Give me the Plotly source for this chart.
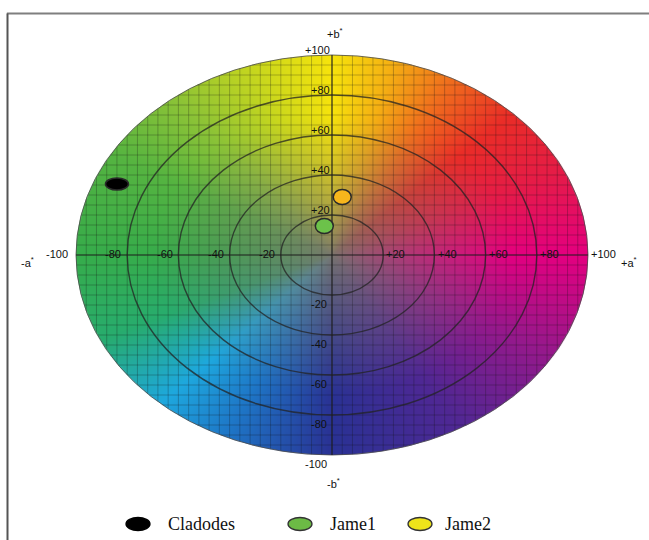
import numpy as np
import zlib, struct, base64
import plotly.graph_objects as go

# ---------------- data ----------------
samples = ["Cladodes", "Jame1", "Jame2"]
a_star = [-84, -3, 4]
b_star = [35.5, 14.5, 29]
point_fill = ["#000000", "#6cc24a", "#f7b61c"]
legend_fill = ["#000000", "#6cbb45", "#eee41a"]
ring_levels = [20, 40, 60, 80]
a_tick_vals = [-80, -60, -40, -20, 20, 40, 60, 80]
a_tick_text = ["-80", "-60", "-40", "-20", "+20", "+40", "+60", "+80"]
b_tick_vals = [100, 80, 60, 40, 20, -20, -40, -60, -80, -100]
b_tick_text = ["+100", "+80", "+60", "+40", "+20", "-20", "-40", "-60", "-80", "-100"]

# hue stops around the a*b* wheel (angle from +a*, counter-clockwise)
hue_angles = [0, 25, 45, 62, 76, 90, 108, 128, 150, 180, 205, 228, 245, 270, 300, 330, 360]
hue_rgb = [(228, 0, 128), (230, 28, 72), (234, 45, 40), (240, 110, 30), (245, 175, 20), (247, 228, 12),
           (200, 215, 30), (140, 195, 55), (85, 180, 65), (55, 172, 75), (40, 172, 110),
           (30, 168, 222), (30, 120, 200), (42, 50, 148), (80, 40, 148), (150, 25, 140),
           (228, 0, 128)]
center_rgb = (122, 118, 110)

W, H = 649, 540
L, R, T, B = 12, 645, 20, 490
X_RANGE = [-125, 100 + (R - 588) / 2.56]
Y_RANGE = [-117.5, 117.5]


def px2paper(px, py):
    return (px - L) / (R - L), (B - py) / (B - T)


# ---------------- background colour wheel image ----------------
N = 500
coords = np.linspace(-100, 100, N, endpoint=False) + 100.0 / N
A, Bm = np.meshgrid(coords, coords[::-1])
rad = np.sqrt(A ** 2 + Bm ** 2) / 100.0
ang = (np.degrees(np.arctan2(Bm, A)) + 360) % 360
hue = np.stack([np.interp(ang, hue_angles, [c[i] for c in hue_rgb]) for i in range(3)], axis=-1)
s = np.clip(rad / 0.7, 0, 1) ** 0.75
rgb = center_rgb * (1 - s[..., None]) + hue * s[..., None]
alpha = np.clip((1.0 - rad) * N / 2 + 0.5, 0, 1) * 255
img = np.concatenate([rgb, alpha[..., None]], axis=-1).astype(np.uint8)


def png_data_uri(rgba):
    h, w, _ = rgba.shape
    raw = b"".join(b"\x00" + rgba[i].tobytes() for i in range(h))

    def chunk(tag, data):
        c = struct.pack(">I", len(data)) + tag + data
        return c + struct.pack(">I", zlib.crc32(tag + data) & 0xffffffff)

    png = (b"\x89PNG\r\n\x1a\n"
           + chunk(b"IHDR", struct.pack(">IIBBBBB", w, h, 8, 6, 0, 0, 0))
           + chunk(b"IDAT", zlib.compress(raw, 9))
           + chunk(b"IEND", b""))
    return "data:image/png;base64," + base64.b64encode(png).decode()


fig = go.Figure()

# ---------------- fine grid clipped to the ellipse ----------------
gx, gy = [], []
for a in np.arange(-96, 100, 4):
    h = 100 * np.sqrt(1 - (a / 100) ** 2)
    gx += [a, a, None]
    gy += [-h, h, None]
for b in np.arange(-95, 100, 5):
    w = 100 * np.sqrt(1 - (b / 100) ** 2)
    gx += [-w, w, None]
    gy += [b, b, None]
fig.add_trace(go.Scatter(x=gx, y=gy, mode="lines", line=dict(color="rgba(20,20,20,0.26)", width=1),
                         hoverinfo="skip", showlegend=False))

# data trace (for hover) - the visible marks are ellipse shapes anchored at the data values
fig.add_trace(go.Scatter(x=a_star, y=b_star, mode="markers", text=samples,
                         marker=dict(size=16, opacity=0), showlegend=False,
                         hovertemplate="%{text}<br>a*=%{x}<br>b*=%{y}<extra></extra>"))

shapes = []
# rings
for r in ring_levels:
    shapes.append(dict(type="circle", xref="x", yref="y", x0=-r, x1=r, y0=-r, y1=r,
                       line=dict(color="rgba(35,35,35,0.75)", width=1.4)))
# outer edge
shapes.append(dict(type="circle", xref="x", yref="y", x0=-100, x1=100, y0=-100, y1=100,
                   line=dict(color="rgba(70,70,70,0.8)", width=1)))
# axes
shapes.append(dict(type="line", xref="x", yref="y", x0=-100, x1=100, y0=0, y1=0,
                   line=dict(color="rgba(30,30,30,0.85)", width=1.2)))
shapes.append(dict(type="line", xref="x", yref="y", x0=0, x1=0, y0=-100, y1=100,
                   line=dict(color="rgba(30,30,30,0.85)", width=1.2)))

# sample points (ellipses anchored at data coordinates)
sizes = [(23, 12), (18, 15), (18, 15)]
for a, b, col, (w, h) in zip(a_star, b_star, point_fill, sizes):
    shapes.append(dict(type="circle", xref="x", yref="y", xsizemode="pixel", ysizemode="pixel",
                       xanchor=a, yanchor=b, x0=-w / 2, x1=w / 2, y0=-h / 2, y1=h / 2,
                       fillcolor=col, line=dict(color="#2a2a2a", width=1.5)))

# frame lines
x0p, y0p = px2paper(7.5, 13.5)
x1p, _ = px2paper(649, 13.5)
_, ybp = px2paper(7.5, 540)
shapes.append(dict(type="line", xref="paper", yref="paper", x0=x0p - 0.001, x1=x1p, y0=y0p, y1=y0p,
                   line=dict(color="#7f7f7f", width=2)))
shapes.append(dict(type="line", xref="paper", yref="paper", x0=x0p, x1=x0p, y0=y0p, y1=ybp,
                   line=dict(color="#555555", width=2)))

annotations = []
lab_font = dict(family="Liberation Sans, Arial, sans-serif", size=11, color="#111111")
for v, t in zip(a_tick_vals, a_tick_text):
    annotations.append(dict(x=v - 1.5 if v < 0 else v + 0.5, y=0.5, xref="x", yref="y", text=t,
                            showarrow=False, xanchor="right" if v < 0 else "left",
                            yanchor="middle", font=lab_font))
annotations.append(dict(x=-102.5, y=0.5, xref="x", yref="y", text="-100", showarrow=False,
                        xanchor="right", yanchor="middle", font=lab_font))
annotations.append(dict(x=100.5, y=0.5, xref="x", yref="y", text="+100", showarrow=False,
                        xanchor="left", yanchor="middle", font=lab_font))
for v, t in zip(b_tick_vals, b_tick_text):
    annotations.append(dict(x=0 if v > 0 else -1, y=v + 2.5 if v > 0 else v - 4.5,
                            xref="x", yref="y", text=t, showarrow=False,
                            xanchor="right", yanchor="middle", font=lab_font))
ax_font = dict(family="Liberation Sans, Arial, sans-serif", size=11, color="#111111")
annotations += [
    dict(x=-119, y=-3.5, xref="x", yref="y", text="-a<sup>*</sup>", showarrow=False, font=ax_font),
    dict(x=116, y=-3.5, xref="x", yref="y", text="+a<sup>*</sup>", showarrow=False, font=ax_font),
    dict(x=1, y=111, xref="x", yref="y", text="+b<sup>*</sup>", showarrow=False, font=ax_font),
    dict(x=0.5, y=-114, xref="x", yref="y", text="-b<sup>*</sup>", showarrow=False, font=ax_font),
]

# legend (drawn below the wheel)
leg_icon_px = [138, 300, 420]
leg_text_px = [166, 328, 443]
leg_y = 524
for name, col, ipx, tpx in zip(samples, legend_fill, leg_icon_px, leg_text_px):
    xp, yp = px2paper(ipx, leg_y)
    shapes.append(dict(type="circle", xref="paper", yref="paper", xsizemode="pixel", ysizemode="pixel",
                       xanchor=xp, yanchor=yp, x0=-12, x1=12, y0=-6.5, y1=6.5,
                       fillcolor=col, line=dict(color="#333333" if name != "Cladodes" else "#000000", width=1.3)))
    txp, _ = px2paper(tpx, leg_y)
    annotations.append(dict(x=txp, y=yp, xref="paper", yref="paper", text=name, showarrow=False,
                            xanchor="left", yanchor="middle",
                            font=dict(family="Liberation Serif, Times New Roman, serif", size=18, color="#111111")))

fig.update_layout(
    width=W, height=H,
    margin=dict(l=L, r=W - R, t=T, b=H - B),
    paper_bgcolor="white", plot_bgcolor="rgba(0,0,0,0)",
    xaxis=dict(range=X_RANGE, visible=False, fixedrange=True),
    yaxis=dict(range=Y_RANGE, visible=False, fixedrange=True),
    images=[dict(source=png_data_uri(img), xref="x", yref="y", x=-100, y=100, sizex=200, sizey=200,
                 sizing="stretch", layer="below", xanchor="left", yanchor="top")],
    shapes=shapes, annotations=annotations, showlegend=False,
)

fig.write_html("out.html", config={"displayModeBar": False},
               post_script="document.body.style.margin='0px';")
